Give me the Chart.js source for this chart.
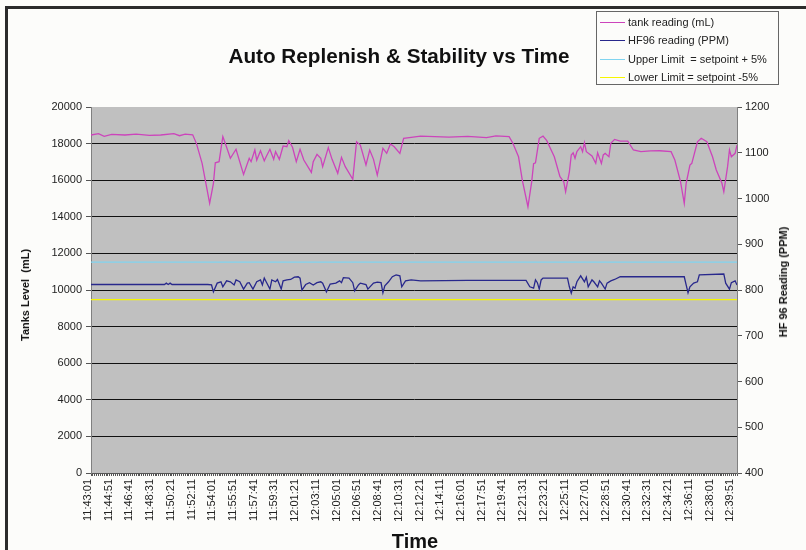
<!DOCTYPE html>
<html>
<head>
<meta charset="utf-8">
<title>Auto Replenish &amp; Stability vs Time</title>
<script src="https://cdn.jsdelivr.net/npm/chart.js@4.4.1/dist/chart.umd.min.js"></script>
<style>
    body { margin: 0; background: #fcfcfa; }
    #wrap { position: relative; width: 806px; height: 550px; overflow: hidden; font-family: "Liberation Sans", Arial, sans-serif; color: #111; }
    #frame { position: absolute; left: 5px; top: 6px; width: 900px; height: 700px; border-top: 3px solid #2b2b2b; border-left: 3px solid #2b2b2b; }
    #chart { position: absolute; left: 0; top: 0; }
    .title { position: absolute; left: 0; width: 798px; top: 45px; line-height: 21px; text-align: center; font-weight: bold; font-size: 20.7px; white-space: nowrap; }
    .axis-title { position: absolute; font-weight: bold; font-size: 11px; white-space: nowrap; transform: translate(-50%, -50%) rotate(-90deg); }
    .time-title { position: absolute; left: 415px; top: 541px; transform: translate(-50%, -50%); font-weight: bold; font-size: 20px; }
    #legend { position: absolute; left: 596px; top: 11px; width: 181px; height: 72px; border: 1px solid #666; background: #fcfcfa; }
    .row { position: absolute; left: 3px; height: 18px; line-height: 18px; font-size: 11px; white-space: nowrap; color: #222; }
    .swatch { position: absolute; left: 0; top: 9px; width: 25px; height: 1px; }
    .label { position: absolute; left: 28px; top: 0; }
</style>
</head>
<body>
<div id="wrap">
    <div id="frame"></div>
    <canvas id="chart" width="806" height="550"></canvas>
    <div class="title">Auto Replenish &amp; Stability vs Time</div>
    <div class="axis-title" style="left:25px; top:295px;">Tanks Level&nbsp; (mL)</div>
    <div class="axis-title" style="left:783px; top:282px;">HF 96 Reading (PPM)</div>
    <div class="time-title">Time</div>
    <div id="legend"></div>
</div>
<script>
// readings are logged every 10 s starting 11:43:01; steps count those intervals
const STEP_SECONDS = 10;
const LAST_STEP = 343;

const timeLabels = ["11:43:01", "11:44:51", "11:46:41", "11:48:31", "11:50:21", "11:52:11", "11:54:01", "11:55:51",
    "11:57:41", "11:59:31", "12:01:21", "12:03:11", "12:05:01", "12:06:51", "12:08:41", "12:10:31",
    "12:12:21", "12:14:11", "12:16:01", "12:17:51", "12:19:41", "12:21:31", "12:23:21", "12:25:11",
    "12:27:01", "12:28:51", "12:30:41", "12:32:31", "12:34:21", "12:36:11", "12:38:01", "12:39:51"];
const LABEL_EVERY = 110; // seconds between time labels

// tank reading (mL), left axis
const tankStep = [
    0, 4, 7, 11, 18, 24, 31, 37, 44, 47,
    50, 54, 56, 59, 61, 63, 65, 66, 68, 70,
    71, 74, 77, 81, 84, 85, 87, 88, 90, 92,
    93, 95, 97, 98, 100, 102, 104, 105, 107, 109,
    111, 113, 117, 118, 120, 122, 123, 126, 128, 131,
    133, 135, 139, 141, 143, 146, 148, 150, 152, 155,
    157, 159, 161, 164, 166, 170, 175, 190, 200, 210,
    215, 222, 224, 227, 229, 232, 234, 235, 236, 238,
    240, 242, 246, 249, 251, 252, 254, 255, 256, 257,
    258, 260, 261, 262, 263, 266, 268, 269, 271, 272,
    273, 275, 276, 278, 281, 285, 288, 292, 297, 302,
    308, 310, 313, 315, 316, 318, 319, 322, 324, 327,
    330, 332, 335, 336, 338, 339, 340, 342, 343
];
const tankLevel = [
    18470, 18540, 18400, 18500, 18470, 18520, 18450, 18470, 18540, 18430,
    18520, 18480, 18000, 16920, 15830, 14740, 15830, 16950, 17010, 18380,
    18100, 17200, 17690, 16320, 17200, 17010, 17650, 17100, 17610, 17060,
    17280, 17690, 17140, 17560, 17140, 17870, 17830, 18160, 17800, 17010,
    17690, 17100, 16430, 17010, 17410, 17200, 16740, 17780, 17140, 16380,
    17250, 16740, 16050, 18100, 17920, 16830, 17650, 17140, 16280, 17740,
    17470, 17980, 17830, 17470, 18290, 18340, 18410, 18350, 18390, 18330,
    18420, 18380, 18020, 17280, 16010, 14550, 15920, 16900, 16950, 18290,
    18410, 18160, 17280, 16190, 15920, 15370, 16460, 17380, 17500, 17200,
    17560, 17830, 17560, 18050, 17560, 17320, 16920, 17500, 16920, 17380,
    17470, 17280, 18020, 18230, 18140, 18140, 17650, 17560, 17600, 17610,
    17560, 17100, 15920, 14740, 15830, 16830, 16920, 18100, 18290, 18100,
    17280, 16560, 15830, 15370, 16740, 17650, 17280, 17470, 17920
];

// HF96 reading (PPM), right axis
const hfStep = [
    0, 39, 40, 41, 42, 43, 62, 64, 65, 67,
    69, 70, 72, 74, 76, 77, 79, 81, 83, 84,
    86, 88, 90, 91, 92, 93, 95, 96, 98, 99,
    101, 102, 104, 106, 108, 110, 111, 112, 114, 116,
    118, 120, 122, 123, 125, 127, 130, 132, 133, 134,
    137, 139, 140, 142, 143, 146, 147, 150, 152, 154,
    155, 156, 158, 160, 162, 164, 165, 167, 170, 175,
    200, 231, 233, 235, 236, 237, 238, 239, 240, 253,
    254, 255, 256, 257, 258, 260, 262, 263, 264, 266,
    267, 269, 270, 271, 273, 274, 276, 278, 281, 315,
    316, 317, 318, 320, 322, 323, 336, 337, 339, 340,
    342, 343
];
const hfReading = [
    812, 812, 815, 812, 815, 812, 812, 811, 796, 815,
    818, 807, 820, 818, 811, 822, 818, 802, 815, 816,
    802, 818, 822, 811, 826, 818, 802, 822, 818, 823,
    802, 820, 822, 823, 828, 829, 826, 800, 812, 816,
    811, 816, 818, 815, 796, 813, 815, 820, 816, 827,
    826, 816, 798, 811, 815, 812, 802, 815, 817, 816,
    794, 809, 818, 829, 833, 831, 807, 820, 822, 820,
    821, 821, 807, 804, 822, 816, 802, 822, 826, 826,
    807, 793, 807, 804, 818, 831, 818, 828, 807, 822,
    818, 807, 820, 815, 802, 815, 820, 823, 829, 829,
    811, 794, 807, 815, 818, 833, 835, 815, 802, 816,
    820, 811
];

// setpoint 820 PPM, limits +/- 5%
const limitStep = [0, LAST_STEP];
const upperLimit = [861, 861];
const lowerLimit = [779, 779];

const leftTicks = { min: 0, max: 20000, step: 2000 };
const rightTicks = { min: 400, max: 1200, step: 100 };

const colors = {
    tank: "#cc44bb",
    hf: "#28288c",
    upper: "#80d4f0",
    lower: "#f6f600"
};

const toPoints = (steps, values) => steps.map((s, i) => ({ x: s * STEP_SECONDS, y: values[i] }));

// legend box, top right
const legendItems = [
    ["tank reading (mL)", colors.tank],
    ["HF96 reading (PPM)", colors.hf],
    ["Upper Limit&nbsp; = setpoint + 5%", colors.upper],
    ["Lower Limit = setpoint -5%", colors.lower]
];
const legend = document.getElementById("legend");
legendItems.forEach(([label, color], i) => {
    const row = document.createElement("div");
    row.className = "row";
    row.style.top = Math.round(1 + i * 18.3) + "px";
    row.innerHTML = `<span class="swatch" style="background:${color}"></span><span class="label">${label}</span>`;
    legend.appendChild(row);
});

const plotBackground = {
    id: "plotBackground",
    beforeDraw(chart) {
        const { ctx, chartArea } = chart;
        ctx.save();
        ctx.fillStyle = "#c0c0c0";
        ctx.fillRect(chartArea.left, chartArea.top, chartArea.right - chartArea.left, chartArea.bottom - chartArea.top);
        ctx.restore();
    }
};

const tickFont = { family: "'Liberation Sans', Arial, sans-serif", size: 11 };

const lineStyle = { borderWidth: 1.3, pointRadius: 0, tension: 0, fill: false };

new Chart(document.getElementById("chart"), {
    type: "line",
    data: {
        datasets: [
            { label: "tank reading (mL)", data: toPoints(tankStep, tankLevel), borderColor: colors.tank, yAxisID: "y", ...lineStyle },
            { label: "HF96 reading (PPM)", data: toPoints(hfStep, hfReading), borderColor: colors.hf, yAxisID: "y1", ...lineStyle },
            { label: "Upper Limit = setpoint + 5%", data: toPoints(limitStep, upperLimit), borderColor: colors.upper, yAxisID: "y1", ...lineStyle },
            { label: "Lower Limit = setpoint -5%", data: toPoints(limitStep, lowerLimit), borderColor: colors.lower, yAxisID: "y1", ...lineStyle }
        ]
    },
    options: {
        responsive: false,
        animation: false,
        devicePixelRatio: 1,
        layout: { padding: { top: 107, left: 0, right: 0, bottom: 0 } },
        plugins: {
            legend: { display: false },
            title: { display: false },
            tooltip: { enabled: false }
        },
        scales: {
            x: {
                type: "linear",
                min: 0,
                max: LAST_STEP * STEP_SECONDS,
                afterFit: (scale) => { scale.height = 77; },
                border: { color: "#555", width: 1 },
                grid: { drawOnChartArea: false, drawTicks: true, tickLength: 3, tickColor: "#555" },
                ticks: {
                    stepSize: STEP_SECONDS,
                    autoSkip: false,
                    minRotation: 90,
                    maxRotation: 90,
                    padding: 3,
                    labelOffset: -3,
                    color: "#222",
                    font: tickFont,
                    callback: (value) => (value % LABEL_EVERY === 0 ? timeLabels[value / LABEL_EVERY] : "")
                }
            },
            y: {
                position: "left",
                min: leftTicks.min,
                max: leftTicks.max,
                afterFit: (scale) => { scale.width = 91; },
                border: { color: "#808080", width: 1 },
                grid: {
                    color: (ctx) => (ctx.tick && ctx.tick.value === leftTicks.max ? "rgba(0,0,0,0)" : "#111"),
                    lineWidth: 1,
                    tickLength: 5,
                    tickColor: "#555"
                },
                ticks: { stepSize: leftTicks.step, padding: 4, color: "#222", font: tickFont, callback: (v) => String(v) }
            },
            y1: {
                position: "right",
                min: rightTicks.min,
                max: rightTicks.max,
                afterFit: (scale) => { scale.width = 69; },
                border: { color: "#808080", width: 1 },
                grid: { drawOnChartArea: false, tickLength: 5, tickColor: "#555" },
                ticks: { stepSize: rightTicks.step, padding: 3, color: "#222", font: tickFont, callback: (v) => String(v) }
            }
        }
    },
    plugins: [plotBackground]
});
</script>
</body>
</html>
